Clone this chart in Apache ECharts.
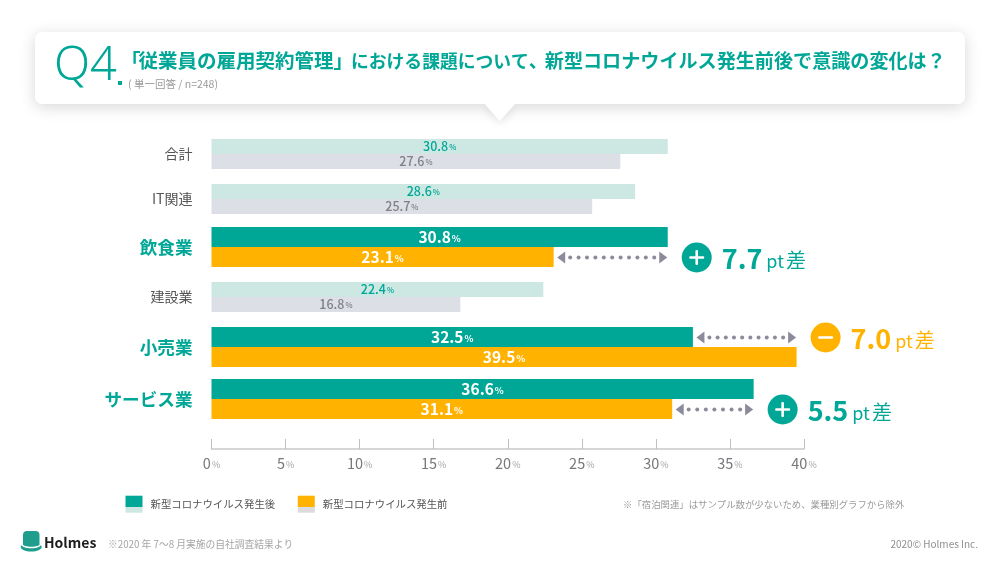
<!DOCTYPE html>
<html lang="ja"><head><meta charset="utf-8">
<style>html,body{margin:0;padding:0;background:#fff}#c{width:1000px;height:573px}</style>
<script src="https://cdn.jsdelivr.net/npm/echarts@6/dist/echarts.min.js"></script></head>
<body><div id="c"></div>
<script>
const categories = ['合計','IT関連','飲食業','建設業','小売業','サービス業'];
const afterValues = [30.8,28.6,30.8,22.4,32.5,36.6];
const beforeValues = [27.6,25.7,23.1,16.8,39.5,31.1];
const highlighted = [false,false,true,false,true,true];
const diffLabels = [null,null,'7.7',null,'7.0','5.5'];
const rowTops = [139,184,227,282,327,379];
const rowHeights = [30,30,40,30,40,40];
const xTicks = [0,40,5];
const afterName = '新型コロナウイルス発生後';
const beforeName = '新型コロナウイルス発生前';

const JP = '"Noto Sans CJK JP"';
const TEAL='#00a797', ORANGE='#ffb300', LTEAL='#cde7e3', LGRAY='#dcdfe6', ARROW='#8b8b9b', HAT='#1f9e8d';
const chart = echarts.init(document.getElementById('c'), null, {renderer:'canvas'});

const grids=[],xAxes=[],yAxes=[],series=[];
function barLabel(color,bold,size){
  return {show:true,position:'inside',formatter:p=>`{n|${p.value.toFixed(1)}}{p|%}`,
    rich:{n:{fontFamily:JP,fontSize:size,fontWeight:bold?700:500,color:color},
          p:{fontFamily:JP,fontSize:size*0.6,fontWeight:bold?700:500,color:color,padding:[2,0,0,1]}}};
}
const renderDiff = label => (params,api)=>{
  const b=api.value(0), a=api.value(1), cs=params.coordSys;
  const lo=Math.min(a,b), hi=Math.max(a,b);
  const x0=api.coord([lo,0])[0], x1=api.coord([hi,0])[0];
  const y=cs.y+cs.height*(a<b?0.25:0.75)+0.5;
  const pos=a>=b, col=pos?TEAL:ORANGE;
  const kids=[];
  const L=x0+3.5, R=x1-0.5;
  kids.push({type:'polygon',shape:{points:[[L,y],[L+8,y-6],[L+8,y+6]]},style:{fill:ARROW}});
  kids.push({type:'polygon',shape:{points:[[R,y],[R-8,y-6],[R-8,y+6]]},style:{fill:ARROW}});
  const n=Math.max(2,Math.round((R-L-26)/8.3)+1), st=(R-L-26)/(n-1);
  for(let i=0;i<n;i++) kids.push({type:'circle',shape:{cx:L+13+i*st,cy:y,r:2},style:{fill:ARROW}});
  const cx=x1+29;
  kids.push({type:'circle',shape:{cx:cx,cy:y,r:15},style:{fill:col}});
  kids.push({type:'rect',shape:{x:cx-7.5,y:y-1.3,width:15,height:2.6,r:1},style:{fill:'#fff'}});
  if(pos) kids.push({type:'rect',shape:{x:cx-1.3,y:y-7.5,width:2.6,height:15,r:1},style:{fill:'#fff'}});
  kids.push({type:'text',x:cx+25,y:y+1,style:{
    text:`{a|${label}}{b|pt}{c|差}`,verticalAlign:'middle',align:'left',
    rich:{a:{fontFamily:JP,fontSize:27,fontWeight:700,fill:col,color:col,padding:[0,4,0,0]},
          b:{fontFamily:JP,fontSize:18,fill:col,color:col,padding:[6,2,0,0]},
          c:{fontFamily:JP,fontSize:20,fill:col,color:col,padding:[4,0,0,0]}}}});
  return {type:'group',children:kids};
};
categories.forEach((cat,i)=>{
  const hl=highlighted[i], last=i===categories.length-1;
  grids.push({left:211.5,width:592.5,top:rowTops[i],height:rowHeights[i],containLabel:false});
  xAxes.push({type:'value',gridIndex:i,min:xTicks[0],max:xTicks[1],interval:xTicks[2],show:last,
    offset:last?30:0,splitLine:{show:false},
    axisLine:{show:true,lineStyle:{color:'#c9c9cc',width:1.5}},
    axisTick:{show:true,inside:true,length:10,lineStyle:{color:'#c0c0c4',width:1}},
    axisLabel:{margin:7,hideOverlap:false,formatter:v=>`{n|${v}}{p|%}`,
      rich:{n:{fontFamily:JP,fontSize:14.5,color:'#77777c'},p:{fontFamily:JP,fontSize:9,color:'#a5a5a8',padding:[3,0,0,1]}}}});
  yAxes.push({type:'category',gridIndex:i,data:[cat],inverse:true,
    axisLine:{show:false},axisTick:{show:false},splitLine:{show:false},
    axisLabel:{margin:19,fontFamily:JP,fontSize:hl?17.6:14,fontWeight:hl?700:400,color:hl?TEAL:'#555',padding:hl?[0,0,2,0]:0}});
  const w=rowHeights[i]/2;
  series.push({type:'bar',name:afterName,xAxisIndex:i,yAxisIndex:i,barWidth:w,barGap:0,silent:true,
    itemStyle:{color:hl?TEAL:LTEAL},data:[afterValues[i]],
    label:hl?barLabel('#fff',true,15.5):barLabel(TEAL,false,12.5)});
  series.push({type:'bar',name:beforeName,xAxisIndex:i,yAxisIndex:i,barWidth:w,barGap:0,silent:true,
    itemStyle:{color:hl?ORANGE:LGRAY},data:[beforeValues[i]],
    label:hl?barLabel('#fff',true,15.5):barLabel('#808085',false,12.5)});
  if(hl) series.push({type:'custom',name:'差'+i,xAxisIndex:i,yAxisIndex:i,silent:true,clip:false,z:5,
    coordinateSystem:'cartesian2d',renderItem:renderDiff(diffLabels[i]),encode:{x:[0,1]},
    data:[[beforeValues[i],afterValues[i]]]});
});
const swatch=(c1,c2)=>({type:'linear',x:0,y:0,x2:0,y2:1,colorStops:[
  {offset:0,color:c1},{offset:0.66,color:c1},{offset:0.66,color:c2},{offset:1,color:c2}]});
const t=(x,y,text,size,fill,extra)=>({type:'text',x,y,silent:true,style:Object.assign({text,fontFamily:JP,fontSize:size,fill,verticalAlign:'middle'},extra||{})});
const tok=(size,width,align)=>({fontFamily:JP,fontSize:size,fontWeight:700,fill:TEAL,color:TEAL,width,align});
chart.setOption({
  animation:false,backgroundColor:'#fff',
  grid:grids,xAxis:xAxes,yAxis:yAxes,series,
  legend:{left:125.5,top:495.7,padding:0,itemWidth:17,itemHeight:17,itemGap:22.6,icon:'rect',selectedMode:false,
    textStyle:{fontFamily:JP,fontSize:10.4,color:'#555',padding:[0,0,0,3]},
    data:[{name:afterName,itemStyle:{color:swatch(TEAL,LTEAL)}},{name:beforeName,itemStyle:{color:swatch(ORANGE,'#dcdcdf')}}]},
  graphic:{elements:[
    {type:'polygon',z:-1,silent:true,shape:{points:[[484,104],[516,104],[499.5,121]]},style:{fill:'#fff',shadowBlur:8,shadowColor:'rgba(0,0,0,0.10)',shadowOffsetY:3}},
    {type:'rect',z:-1,silent:true,shape:{x:35,y:32,width:930,height:72,r:7},style:{fill:'#fff',shadowBlur:16,shadowColor:'rgba(0,0,0,0.16)',shadowOffsetY:3}},
    {type:'polygon',z:0,silent:true,shape:{points:[[484,103],[516,103],[499.5,120.5]]},style:{fill:'#fff'}},
    t(54,67,'Q4',47,TEAL,{fontFamily:'"Noto Sans"',fontWeight:300}),
    {type:'rect',silent:true,shape:{x:118,y:81,width:4,height:4},style:{fill:TEAL}},
    {type:'text',x:121,y:61,silent:true,style:{verticalAlign:'middle',align:'left',
      text:'{a|「}{b|従業員の雇用契約管理}{c|」}{d|における課題について}{e|、}{f|新型コロナウイルス発生前後で意識の変化は}{g|\uFF1F}',
      rich:{a:tok(19.5,17.5),b:tok(19.5),c:tok(19.5,17.5),d:tok(17.8),e:tok(19,16),f:tok(19.1),g:tok(19)}}},
    t(128,84,'( 単一回答 / n=248)',10.5,'#9a9a9a'),
    t(623,504,'※「宿泊関連」はサンプル数が少ないため、業種別グラフから除外',9.4,'#9a9a9e'),
    t(108,544,'※2020 年 7〜8 月実施の自社調査結果より',9.75,'#a5a5a8'),
    t(978,544,'2020© Holmes Inc.',10,'#8f8f92',{align:'right'}),
    t(44,543,'Holmes',14,'#1c1c1c',{fontWeight:700}),
    {type:'ellipse',silent:true,shape:{cx:31.2,cy:547,rx:10.5,ry:4.5},style:{fill:HAT}},
    {type:'ellipse',silent:true,shape:{cx:31.2,cy:545,rx:9.5,ry:3.2},style:{fill:'#fff'}},
    {type:'rect',silent:true,shape:{x:23,y:531,width:16.5,height:13.5,r:[4,4,0,0]},style:{fill:HAT}},
    {type:'ellipse',silent:true,shape:{cx:31.2,cy:544.5,rx:8.25,ry:2.2},style:{fill:HAT}}
  ]}
});
</script></body></html>
